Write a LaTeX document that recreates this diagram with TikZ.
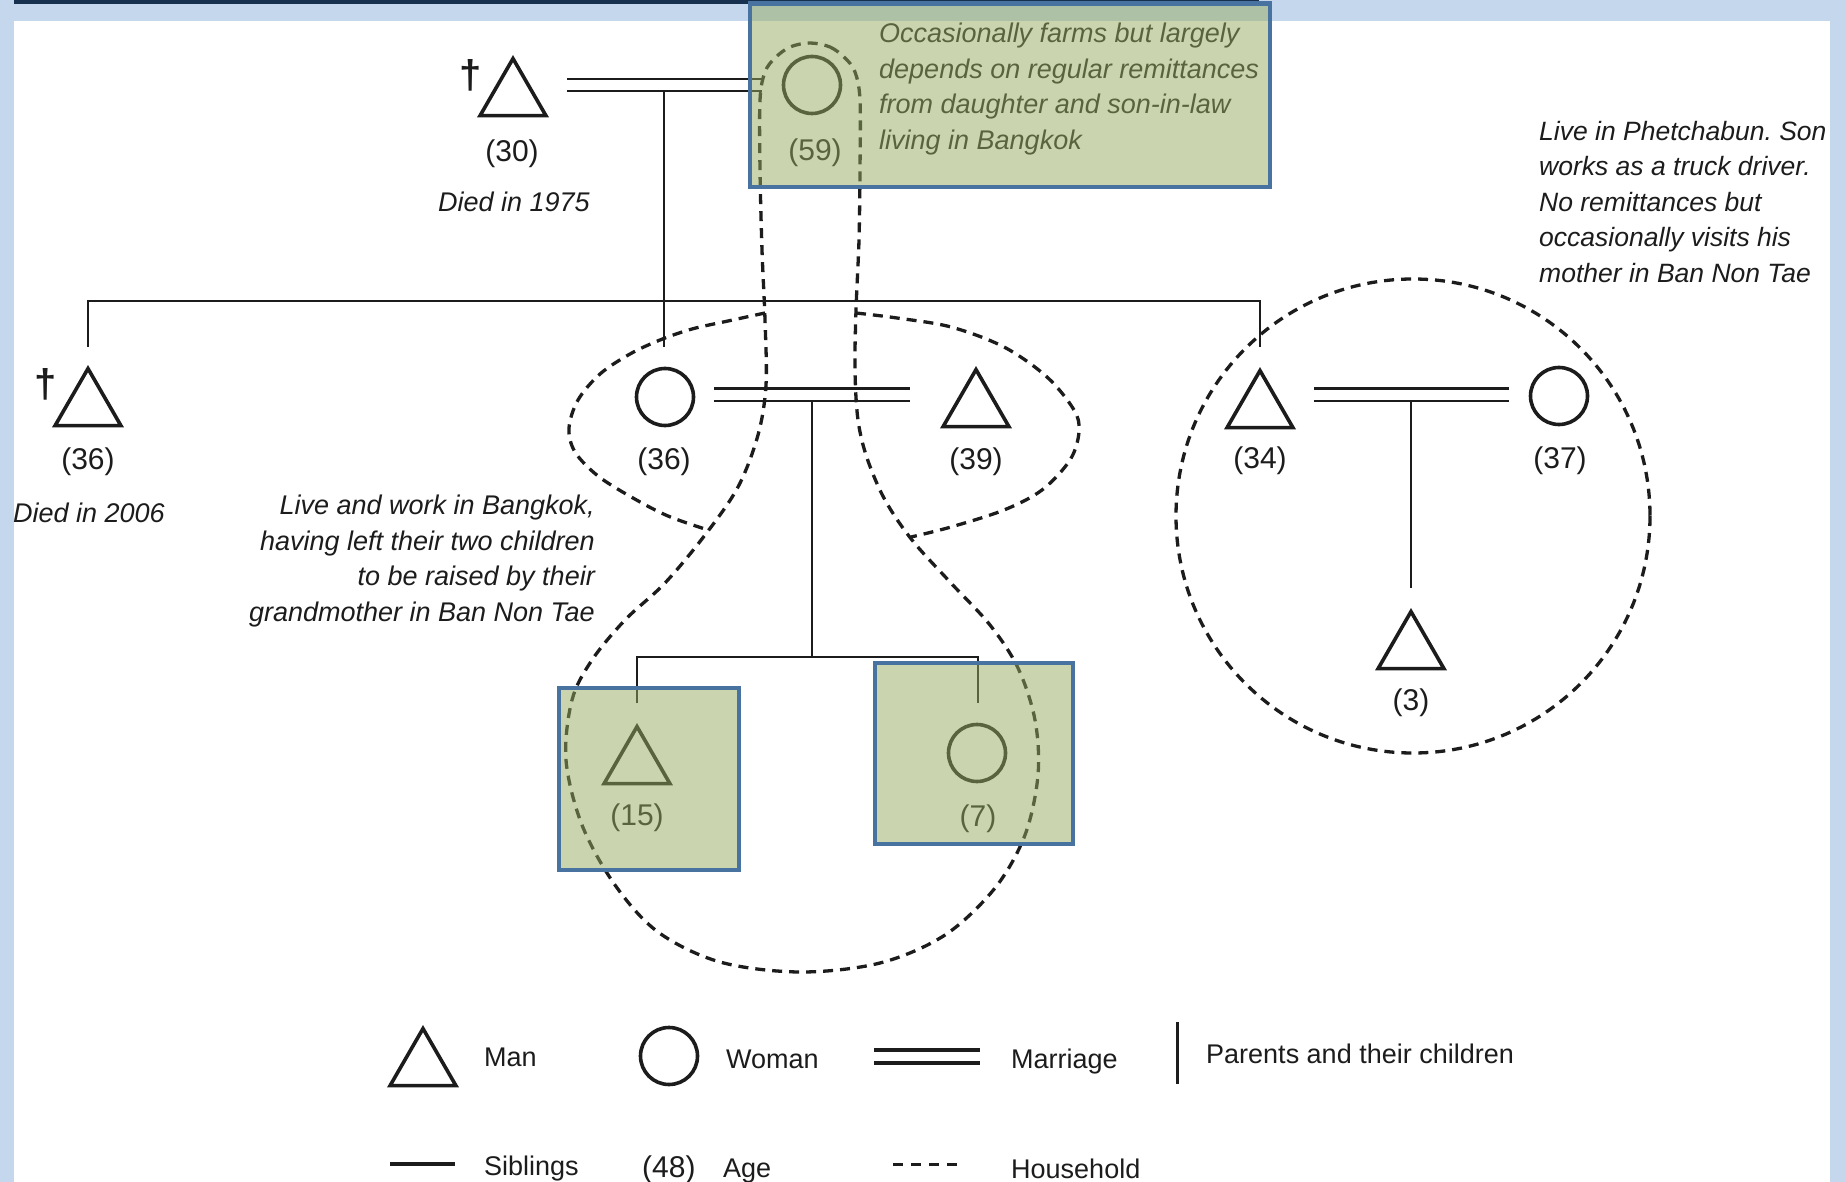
\documentclass[tikz,border=0pt]{standalone}
\usepackage{fontspec}
\setmainfont{Liberation Sans}
\usetikzlibrary{shapes.geometric}
\frenchspacing

\definecolor{pagebg}{RGB}{197,215,236}
\definecolor{topbar}{RGB}{23,48,79}
\definecolor{frameblue}{RGB}{72,115,160}
\definecolor{olive}{RGB}{150,173,97}
\definecolor{ink}{RGB}{28,28,28}

\tikzset{
  man/.style={draw=ink, line width=3.6pt, regular polygon, regular polygon sides=3,
    minimum size=76pt, inner sep=0pt, outer sep=0pt},
  woman/.style={draw=ink, line width=3.6pt, circle, minimum size=57pt,
    inner sep=0pt, outer sep=0pt},
  age/.style={font=\fontsize{30}{36}\selectfont, text=ink, inner sep=0pt},
  note/.style={font=\fontsize{27}{35.5}\selectfont\itshape, text=ink, inner sep=0pt},
  legtext/.style={font=\fontsize{27}{32}\selectfont, text=ink, inner sep=0pt, anchor=base west},
  dagger/.style={font=\fontsize{40}{44}\selectfont\bfseries, text=ink, inner sep=0pt},
  kin/.style={draw=ink, line width=2.4pt},
  marriage/.style={draw=ink, line width=2.4pt, double=white, double distance=10pt},
  household/.style={draw=ink, line width=3.3pt, dash pattern=on 10pt off 7pt},
  highlight/.style={fill=olive, fill opacity=0.5, draw=frameblue, draw opacity=1, line width=4.5pt},
}

\begin{document}
\begin{tikzpicture}[x=1pt,y=-1pt]
\useasboundingbox (0,0) rectangle (1845,1182);

% page frame
\fill[pagebg] (0,0) rectangle (1845,1182);
\fill[white] (14,21) rectangle (1830,1182);
\fill[topbar] (14,0) rectangle (1259,4);

% ---------- people ----------
\node[man]   (g1m) at (513,96.6) {};
\node[woman] (g1f) at (812,85) {};
\node[man]   (s1)  at (88,406.6) {};
\node[woman] (s2)  at (665,397) {};
\node[man]   (s2h) at (976,407.6) {};
\node[man]   (s3)  at (1260,408.6) {};
\node[woman] (s3w) at (1559,396) {};
\node[man]   (c3)  at (1411,649.6) {};
\node[man]   (c1)  at (637,764.6) {};
\node[woman] (c2)  at (977,753) {};

% deceased marks
\node[dagger] (x1) at (471,75) {†};
\node[dagger] (x2) at (46,384) {†};

% ages
\node[age] (a30)  at (512,154) {(30)};
\node[age] (a59)  at (815,153) {(59)};
\node[age] (a36l) at (88,462) {(36)};
\node[age] (a36)  at (664,462) {(36)};
\node[age] (a39)  at (976,462) {(39)};
\node[age] (a34)  at (1260,461) {(34)};
\node[age] (a37)  at (1560,461) {(37)};
\node[age] (a3)   at (1411,703) {(3)};
\node[age] (a15)  at (637,818) {(15)};
\node[age] (a7)   at (978,819) {(7)};

% notes
\node[note] (d1975) at (514,202) {Died in 1975};
\node[note] (d2006) at (89,513) {Died in 2006};
\node[note, anchor=west, align=left] (n59) at (879,89)
  {Occasionally farms but largely\\depends on regular remittances\\from daughter and son-in-law\\living in Bangkok};
\node[note, font=\fontsize{26.5}{35.5}\selectfont\itshape, anchor=west, align=left] (nson) at (1539,202)
  {Live in Phetchabun. Son\\works as a truck driver.\\No remittances but\\occasionally visits his\\mother in Ban Non Tae};
\node[note, anchor=east, align=right] (ndau) at (595,561)
  {Live and work in Bangkok,\\having left their two children\\to be raised by their\\grandmother in Ban Non Tae};

% ---------- kinship lines ----------
\coordinate (m1a) at (567,85);   \coordinate (m1b) at (762,85);
\coordinate (k1a) at (664,91.2); \coordinate (k1b) at (664,347);
\coordinate (sibA) at (88,301);  \coordinate (sibB) at (1260,301);
\coordinate (dA) at (88,347);    \coordinate (dB) at (1260,347);
\draw[marriage] (m1a) -- (m1b);
\draw[kin] (k1a) -- (k1b);
\draw[kin] (dA) -- (sibA) -- (sibB) -- (dB);

\coordinate (m2a) at (714,394.5); \coordinate (m2b) at (910,394.5);
\coordinate (k2a) at (812,400.7); \coordinate (k2b) at (812,657);
\coordinate (cA) at (637,657);    \coordinate (cB) at (978,657);
\coordinate (cAd) at (637,703);   \coordinate (cBd) at (978,703);
\draw[marriage] (m2a) -- (m2b);
\draw[kin] (k2a) -- (k2b);
\draw[kin] (cAd) -- (cA) -- (cB) -- (cBd);

\coordinate (m3a) at (1314,394.5); \coordinate (m3b) at (1509,394.5);
\coordinate (k3a) at (1411,400.7); \coordinate (k3b) at (1411,588);
\draw[marriage] (m3a) -- (m3b);
\draw[kin] (k3a) -- (k3b);

% ---------- households ----------
% grandmother with the two grandchildren
\draw[household] plot[smooth cycle, tension=0.55] coordinates {
  (810,43) (830,47) (845,58) (855,72) (860,100) (860,170) (859,240) (856,310)
  (855,370) (858,420) (867,458) (885,500) (912,540) (950,582) (990,625)
  (1018,668) (1035,720) (1038,775) (1025,835) (995,888) (945,935) (880,963)
  (800,972) (720,962) (658,932) (615,885) (582,825) (566,760) (572,700)
  (592,660) (625,620) (665,583) (705,535) (738,487) (758,435) (766,385)
  (765,320) (762,250) (760,170) (760,100) (765,72) (775,58) (790,47)};
% the couple working in Bangkok
\draw[household] plot[smooth, tension=0.55] coordinates {
  (765,313) (728,321) (692,329) (660,340) (630,354) (600,374) (578,400)
  (569,428) (575,452) (598,476) (633,498) (668,516) (708,530)};
\draw[household] plot[smooth, tension=0.55] coordinates {
  (856,313) (897,318) (951,327) (1004,347) (1047,377) (1074,410) (1079,432)
  (1070,460) (1042,490) (1004,510) (951,527) (911,537)};
% the son's family in Phetchabun
\draw[household] (1413,516) circle[radius=237];

% ---------- highlighted members ----------
\draw[highlight] (750,3.5) rectangle (1270,187);
\draw[highlight] (559,688) rectangle (739,870);
\draw[highlight] (875,663) rectangle (1073,844);

% ---------- key ----------
\node[man]   (kman)   at (423,1066.6) {};
\node[woman] (kwoman) at (669,1056) {};
\node[legtext] (tman)   at (484,1066) {Man};
\node[legtext] (twoman) at (726,1068) {Woman};
\coordinate (kma) at (874,1056.5); \coordinate (kmb) at (980,1056.5);
\draw[draw=ink, line width=3.3pt, double=white, double distance=9.7pt] (kma) -- (kmb);
\node[legtext] (tmar) at (1011,1068) {Marriage};
\coordinate (kpa) at (1177,1022); \coordinate (kpb) at (1177,1084);
\draw[draw=ink, line width=3pt] (kpa) -- (kpb);
\node[legtext] (tpar) at (1206,1063) {Parents and their children};
\coordinate (ksa) at (390,1164); \coordinate (ksb) at (455,1164);
\draw[draw=ink, line width=3.3pt] (ksa) -- (ksb);
\node[legtext] (tsib) at (484,1175) {Siblings};
\node[age, anchor=base west] (tage48) at (642,1177) {(48)};
\node[legtext] (tage) at (723,1177) {Age};
\coordinate (kha) at (893,1164); \coordinate (khb) at (957,1164);
\draw[draw=ink, line width=3pt, dash pattern=on 10pt off 8pt] (kha) -- (khb);
\node[legtext] (thh) at (1011,1178) {Household};

% right margin of the page
\fill[pagebg] (1830,0) rectangle (1845,1182);
\end{tikzpicture}
\end{document}
